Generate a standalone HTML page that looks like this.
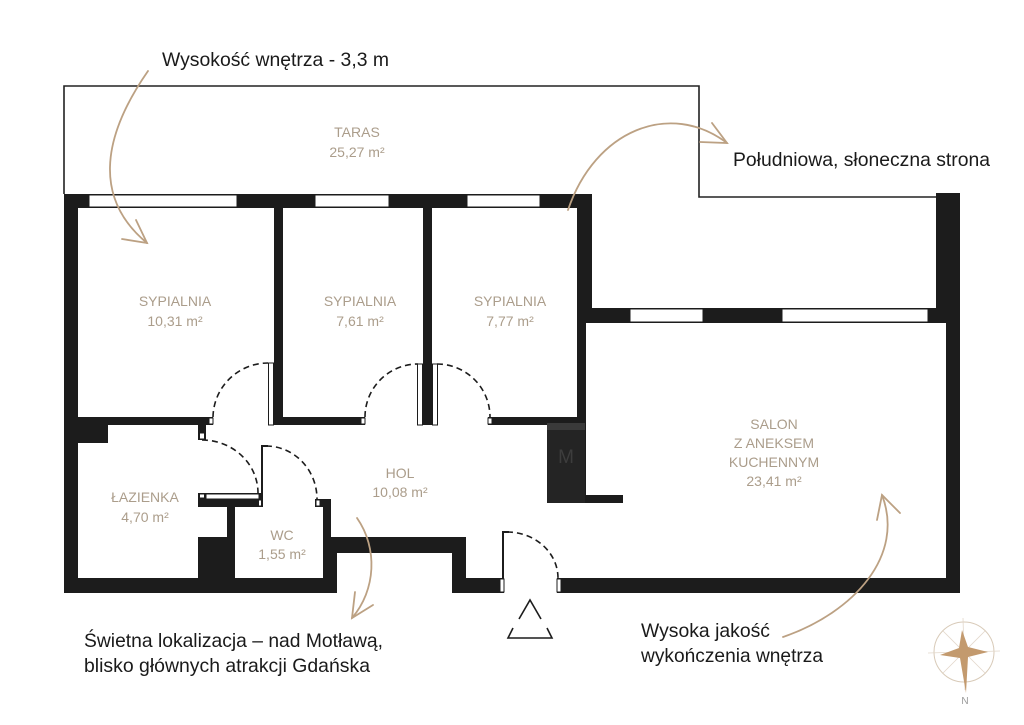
<!DOCTYPE html>
<html><head><meta charset="utf-8"><style>
html,body{margin:0;padding:0;background:#fff;}
svg{display:block;}
</style></head><body>
<svg width="1024" height="725" viewBox="0 0 1024 725" xmlns="http://www.w3.org/2000/svg">
<rect width="1024" height="725" fill="#fff"/>
<!-- taras outline -->
<path d="M64,194 V86 H699 V197 H936" fill="none" stroke="#222" stroke-width="1.6"/>
<g fill="#1c1c1c">
<!-- top wall -->
<rect x="64" y="194" width="528" height="14"/>
<!-- left outer wall -->
<rect x="64" y="194" width="14" height="399"/>
<!-- bottom left wall -->
<rect x="64" y="578" width="273" height="15"/>
<!-- partitions -->
<rect x="274" y="208" width="9" height="217"/>
<rect x="423" y="208" width="9" height="217"/>
<!-- bedroom3 right wall -->
<rect x="577" y="194" width="15" height="129"/>
<rect x="577" y="323" width="9" height="180"/>
<!-- bedroom bottom walls -->
<rect x="78" y="417" width="135" height="8"/>
<rect x="283" y="417" width="82" height="8"/>
<rect x="488" y="417" width="97" height="8"/>
<!-- bath corner block -->
<rect x="78" y="425" width="30" height="18"/>
<!-- bath top stub -->
<rect x="198" y="425" width="8" height="15"/>
<!-- bath-hall wall -->
<rect x="198" y="493" width="64" height="14"/>
<!-- WC left wall -->
<rect x="227" y="507" width="8" height="31"/>
<rect x="198" y="537" width="37" height="41"/>
<!-- WC right wall -->
<rect x="315" y="499" width="15" height="8"/>
<rect x="323" y="499" width="8" height="40"/>
<!-- U niche -->
<rect x="323" y="537" width="143" height="16"/>
<rect x="323" y="537" width="14" height="56"/>
<rect x="452" y="553" width="14" height="40"/>
<rect x="452" y="578" width="52" height="15"/>
<!-- entrance right / salon bottom -->
<rect x="557" y="578" width="403" height="15"/>
<!-- salon right walls -->
<rect x="946" y="308" width="14" height="285"/>
<rect x="936" y="193" width="24" height="130"/>
<!-- salon top wall -->
<rect x="592" y="308" width="368" height="15"/>
<!-- bar -->
<rect x="585" y="495" width="38" height="8"/>
</g>
<!-- M block -->
<rect x="547" y="425" width="38" height="78" fill="#242424"/>
<rect x="547" y="423" width="38" height="7" fill="#3a3a3a"/>
<text x="566" y="463" font-family="Liberation Sans, sans-serif" font-size="19" fill="#3d3d3d" text-anchor="middle">M</text>
<!-- windows -->
<g fill="#fff" stroke="#1c1c1c" stroke-width="1">
<rect x="89" y="195" width="148" height="12"/>
<rect x="315" y="195" width="74" height="12"/>
<rect x="467" y="195" width="73" height="12"/>
<rect x="630" y="309" width="73" height="13"/>
<rect x="782" y="309" width="146" height="13"/>
<!-- door leaves / jambs -->
<rect x="268.5" y="363" width="5" height="62"/>
<rect x="417.5" y="364" width="5" height="61"/>
<rect x="432.5" y="364" width="5" height="61"/>
<rect x="209" y="418" width="4" height="6"/>
<rect x="361" y="418" width="4" height="6"/>
<rect x="488" y="418" width="4" height="6"/>
<rect x="199.5" y="433" width="5" height="6"/>
<rect x="206" y="494" width="53" height="5"/>
<rect x="199.5" y="494" width="5" height="4"/>
<rect x="258.5" y="500" width="3" height="6"/>
<rect x="316" y="500" width="4" height="6"/>
<rect x="500" y="579" width="4" height="13"/>
<rect x="557" y="579" width="4" height="13"/>
</g>
<!-- door leaves lines -->
<g stroke="#1c1c1c" stroke-width="2" fill="none">
<path d="M268,446 H262 V507"/>
<path d="M509,532 H503 V578"/>
</g>
<!-- door arcs -->
<g stroke="#1c1c1c" stroke-width="1.6" fill="none" stroke-dasharray="6,4">
<path d="M213,417 A55,55 0 0 1 268,363"/>
<path d="M365,417 A53,53 0 0 1 418,364"/>
<path d="M437,364 A53,53 0 0 1 490,417"/>
<path d="M202,440 A56,53 0 0 1 258,493"/>
<path d="M266,446 A51,53 0 0 1 317,499"/>
<path d="M507,532 A51,46 0 0 1 558,578"/>
</g>
<!-- entrance triangle -->
<g stroke="#1c1c1c" stroke-width="1.6" fill="none">
<path d="M519,619 L530,600 L541,619"/>
<path d="M513,628 L508,638 H552 L547,628"/>
</g>
<!-- room labels -->
<g font-family="Liberation Sans, sans-serif" font-size="14" fill="#ab9d8b" text-anchor="middle">
<text x="357" y="137">TARAS</text>
<text x="357" y="157">25,27 m²</text>
<text x="175" y="306">SYPIALNIA</text>
<text x="175" y="326">10,31 m²</text>
<text x="360" y="306">SYPIALNIA</text>
<text x="360" y="326">7,61 m²</text>
<text x="510" y="306">SYPIALNIA</text>
<text x="510" y="326">7,77 m²</text>
<text x="145" y="502">ŁAZIENKA</text>
<text x="145" y="522">4,70 m²</text>
<text x="282" y="540">WC</text>
<text x="282" y="559">1,55 m²</text>
<text x="400" y="478">HOL</text>
<text x="400" y="497">10,08 m²</text>
<text x="774" y="429">SALON</text>
<text x="774" y="448">Z ANEKSEM</text>
<text x="774" y="467">KUCHENNYM</text>
<text x="774" y="486">23,41 m²</text>
</g>
<!-- arrows -->
<g stroke="#bca183" stroke-width="1.8" fill="none" stroke-linecap="round">
<path d="M148,71 C100,140 95,200 147,243"/>
<path d="M122,239 L147,243 L136,220"/>
<path d="M568,210 C595,130 670,100 727,143"/>
<path d="M712,123 L727,143 L700,142"/>
<path d="M357,518 C378,548 376,590 352,618"/>
<path d="M355,592 L352,618 L373,605"/>
<path d="M783,637 C855,612 905,555 882,495"/>
<path d="M877,520 L882,495 L900,513"/>
</g>
<!-- callout texts -->
<g font-family="Liberation Sans, sans-serif" font-size="19.5" fill="#1a1a1a">
<text x="162" y="66" textLength="227" lengthAdjust="spacingAndGlyphs">Wysokość wnętrza - 3,3 m</text>
<text x="733" y="166" textLength="257" lengthAdjust="spacingAndGlyphs">Południowa, słoneczna strona</text>
<text x="84" y="647" textLength="299" lengthAdjust="spacingAndGlyphs">Świetna lokalizacja – nad Motławą,</text>
<text x="84" y="672" textLength="286" lengthAdjust="spacingAndGlyphs">blisko głównych atrakcji Gdańska</text>
<text x="641" y="637" textLength="129" lengthAdjust="spacingAndGlyphs">Wysoka jakość</text>
<text x="641" y="662" textLength="182" lengthAdjust="spacingAndGlyphs">wykończenia wnętrza</text>
</g>
<!-- compass -->
<g>
<circle cx="964" cy="652" r="30" fill="none" stroke="#d8cab8" stroke-width="1"/>
<g stroke="#e2d7ca" stroke-width="0.8">
<line x1="943" y1="631" x2="985" y2="673"/>
<line x1="985" y1="631" x2="943" y2="673"/>
<line x1="928" y1="653" x2="1000" y2="651"/>
<line x1="963" y1="618" x2="965" y2="690"/>
</g>
<polygon points="962,630 968,647 988,652 968,657 966,693 960,658 940,655 959,648" fill="#c39a6e"/>
<text x="965" y="704" font-family="Liberation Sans, sans-serif" font-size="10" fill="#999" text-anchor="middle">N</text>
</g>
</svg>
</body></html>
